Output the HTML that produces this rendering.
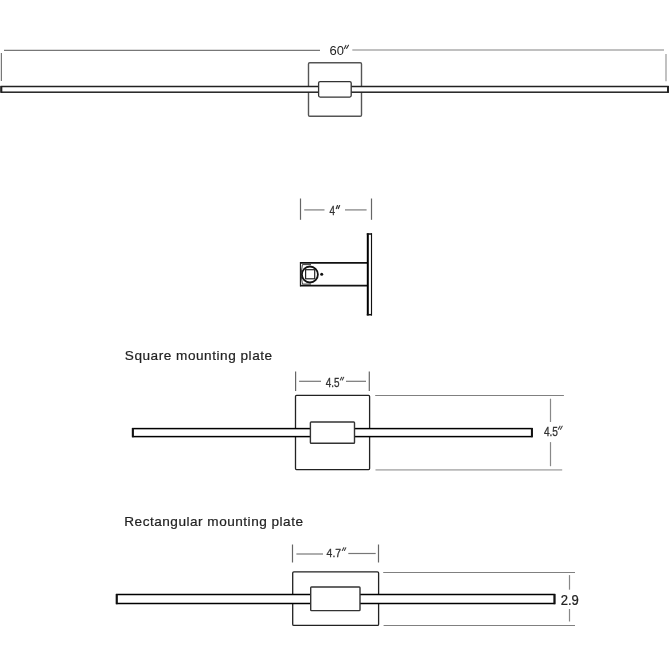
<!DOCTYPE html>
<html><head><meta charset="utf-8">
<style>
html,body{margin:0;padding:0;background:#fff;width:672px;height:672px;overflow:hidden}
svg{display:block;will-change:transform}
text{font-family:"Liberation Sans",sans-serif}
</style></head>
<body>
<svg width="672" height="672" viewBox="0 0 672 672">
<rect x="0" y="0" width="672" height="672" fill="#fff"/>

<!-- ===== Top: 60" fixture ===== -->
<g fill="none">
  <line x1="4" y1="50.3" x2="320" y2="50.3" stroke="#777" stroke-width="1.2"/>
  <line x1="352.3" y1="50" x2="664" y2="50" stroke="#c0c0c0" stroke-width="1.8"/>
  <line x1="1.4" y1="53" x2="1.4" y2="81.1" stroke="#777" stroke-width="1.2"/>
  <line x1="666" y1="54" x2="666" y2="81.2" stroke="#bbb" stroke-width="1.8"/>
  <!-- plate -->
  <rect x="308.5" y="62.7" width="53.0" height="53.5" rx="1.2" stroke="#555" stroke-width="1.4"/>
  <!-- bar -->
  <rect x="1.3" y="86.5" width="666.7" height="5.7" fill="#fff" stroke="#222" stroke-width="1.5"/>
  <line x1="1.3" y1="86" x2="1.3" y2="92.7" stroke="#222" stroke-width="2"/>
  <line x1="668" y1="86" x2="668" y2="92.7" stroke="#222" stroke-width="2"/>
  <!-- box -->
  <rect x="318.6" y="81.6" width="32.6" height="15.5" rx="1.5" fill="#fff" stroke="#333" stroke-width="1.3"/>
</g>
<text transform="translate(329.5,55.1)" font-size="13" fill="#222">60</text>
<path d="M344.4 48.6 L345.9 45.4 M346.6 48.4 L348.5 45.2" stroke="#333" stroke-width="1.1" stroke-linecap="round" fill="none"/>

<!-- ===== Side view ===== -->
<g fill="none">
  <line x1="300.5" y1="198.5" x2="300.5" y2="219.8" stroke="#666" stroke-width="1.2"/>
  <line x1="371.5" y1="198.5" x2="371.5" y2="219.8" stroke="#666" stroke-width="1.2"/>
  <line x1="304.2" y1="209.9" x2="324.5" y2="209.9" stroke="#888" stroke-width="1.3"/>
  <line x1="345" y1="209.9" x2="366.6" y2="209.9" stroke="#888" stroke-width="1.3"/>
  <!-- arm -->
  <line x1="300.4" y1="262.8" x2="367.7" y2="262.8" stroke="#111" stroke-width="1.8"/>
  <line x1="300.4" y1="285.6" x2="367.7" y2="285.6" stroke="#111" stroke-width="1.8"/>
  <line x1="300.4" y1="262" x2="300.4" y2="286.4" stroke="#111" stroke-width="1.1"/>
  <!-- plate -->
  <line x1="367.8" y1="233.3" x2="367.8" y2="315.5" stroke="#000" stroke-width="2"/>
  <line x1="371.5" y1="233.3" x2="371.5" y2="315.5" stroke="#111" stroke-width="1.15"/>
  <line x1="366.8" y1="234" x2="372" y2="234" stroke="#111" stroke-width="1.5"/>
  <line x1="366.8" y1="314.7" x2="372" y2="314.7" stroke="#111" stroke-width="1.5"/>
  <!-- bracket inner -->
  <polyline points="311,264.6 302.4,264.6 301,274.4 302.4,284.1 311,284.1" stroke="#222" stroke-width="0.9"/>
  <circle cx="309.9" cy="274.5" r="8.0" fill="#fff" stroke="#111" stroke-width="1.8"/>
  <rect x="305.6" y="269.7" width="9.1" height="9.1" stroke="#222" stroke-width="1.2"/>
  <circle cx="321.7" cy="274.2" r="1.5" fill="#111"/>
</g>
<text transform="translate(329.5,214.6) scale(0.8,1)" font-size="12.4" fill="#333" stroke="#333" stroke-width="0.3">4</text>
<path d="M336.3 208.5 L337.5 205.6 M338.3 208.5 L339.6 205.6" stroke="#333" stroke-width="1.25" stroke-linecap="round" fill="none"/>

<!-- ===== Square mounting plate ===== -->
<text x="124.8" y="359.7" font-size="13.6" fill="#222" stroke="#222" stroke-width="0.2" textLength="147.3" lengthAdjust="spacing">Square mounting plate</text>
<g fill="none">
  <line x1="295.6" y1="371.4" x2="295.6" y2="391" stroke="#666" stroke-width="1.2"/>
  <line x1="369.3" y1="371.4" x2="369.3" y2="391" stroke="#666" stroke-width="1.2"/>
  <line x1="299.1" y1="381.3" x2="321" y2="381.3" stroke="#777" stroke-width="1.2"/>
  <line x1="346" y1="381.3" x2="366" y2="381.3" stroke="#777" stroke-width="1.2"/>
  <rect x="295.5" y="395.4" width="74.1" height="74.2" rx="1" stroke="#222" stroke-width="1.3"/>
  <rect x="132.8" y="428.6" width="399.1" height="8.0" fill="#fff" stroke="#000" stroke-width="1.5"/>
  <line x1="132.8" y1="428" x2="132.8" y2="437.2" stroke="#111" stroke-width="2"/>
  <line x1="531.9" y1="428" x2="531.9" y2="437.2" stroke="#111" stroke-width="2"/>
  <rect x="310.4" y="422" width="44.1" height="21.2" rx="0.8" fill="#fff" stroke="#333" stroke-width="1.4"/>
  <line x1="375.2" y1="395.5" x2="563.9" y2="395.5" stroke="#808080" stroke-width="1.2"/>
  <line x1="375.5" y1="469.9" x2="562.2" y2="469.9" stroke="#b8b8b8" stroke-width="1.9"/>
  <line x1="550.5" y1="398.7" x2="550.5" y2="422" stroke="#888" stroke-width="1.2"/>
  <line x1="550.5" y1="442.1" x2="550.5" y2="466.2" stroke="#888" stroke-width="1.2"/>
</g>
<text transform="translate(325.8,386.5) scale(0.82,1)" font-size="12.1" fill="#333" stroke="#333" stroke-width="0.3">4.5</text>
<path d="M340.3 380.1 L341.7 377.2 M342.3 380.1 L343.7 377.2" stroke="#444" stroke-width="1.1" stroke-linecap="round" fill="none"/>
<text transform="translate(543.9,435.8) scale(0.84,1)" font-size="12.1" fill="#333" stroke="#333" stroke-width="0.3">4.5</text>
<path d="M558.3 429.3 L560 426.2 M560.5 429.3 L562.2 426.2" stroke="#444" stroke-width="1.1" stroke-linecap="round" fill="none"/>

<!-- ===== Rectangular mounting plate ===== -->
<text x="124.3" y="525.8" font-size="13.6" fill="#222" stroke="#222" stroke-width="0.2" textLength="178.7" lengthAdjust="spacing">Rectangular mounting plate</text>
<g fill="none">
  <line x1="292.5" y1="544.5" x2="292.5" y2="562.5" stroke="#666" stroke-width="1.2"/>
  <line x1="378.5" y1="544.5" x2="378.5" y2="562.5" stroke="#666" stroke-width="1.2"/>
  <line x1="296.4" y1="554" x2="323" y2="554" stroke="#777" stroke-width="1.2"/>
  <line x1="348.3" y1="553.5" x2="375.7" y2="553.5" stroke="#777" stroke-width="1.2"/>
  <rect x="292.7" y="571.9" width="85.9" height="53.5" rx="1.2" stroke="#222" stroke-width="1.3"/>
  <rect x="116.7" y="594.5" width="437.8" height="9.0" fill="#fff" stroke="#000" stroke-width="1.5"/>
  <line x1="116.7" y1="594" x2="116.7" y2="604.2" stroke="#111" stroke-width="2"/>
  <line x1="554.5" y1="594" x2="554.5" y2="604.2" stroke="#111" stroke-width="2"/>
  <rect x="310.7" y="587" width="49.3" height="23.6" rx="0.8" fill="#fff" stroke="#333" stroke-width="1.4"/>
  <line x1="383.2" y1="572.5" x2="575" y2="572.5" stroke="#808080" stroke-width="1.2"/>
  <line x1="383.6" y1="625.5" x2="575" y2="625.5" stroke="#808080" stroke-width="1.2"/>
  <line x1="569.5" y1="575.1" x2="569.5" y2="589.7" stroke="#888" stroke-width="1.2"/>
  <line x1="569.5" y1="609" x2="569.5" y2="621.5" stroke="#888" stroke-width="1.2"/>
</g>
<text transform="translate(326.6,556.5) scale(0.9,1)" font-size="11.6" fill="#333" stroke="#333" stroke-width="0.3">4.7</text>
<path d="M342.3 550.5 L343.8 547.7 M344.4 550.5 L345.8 547.7" stroke="#444" stroke-width="1.1" stroke-linecap="round" fill="none"/>
<text transform="translate(560.7,604.9) scale(0.9,1)" font-size="14.5" fill="#222" stroke="#222" stroke-width="0.25">2.9</text>
</svg>
</body></html>
